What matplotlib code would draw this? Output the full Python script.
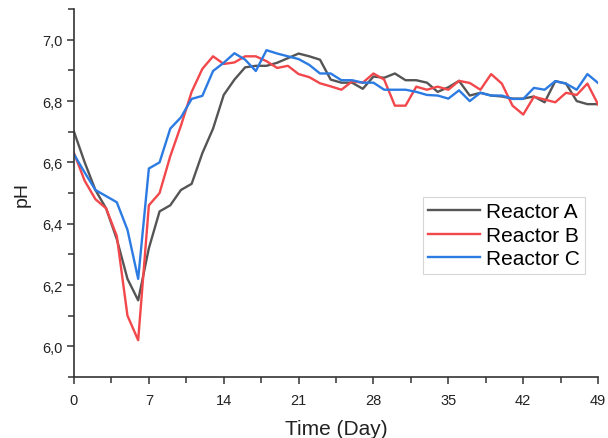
import numpy as np
import matplotlib
matplotlib.use("Agg")
import matplotlib.pyplot as plt
from matplotlib.ticker import MultipleLocator, FuncFormatter

plt.rcParams["font.family"] = ["Liberation Sans", "DejaVu Sans"]

days = np.arange(0, 50)
reactor_a = [6.70, 6.60, 6.51, 6.45, 6.35, 6.22, 6.15, 6.32, 6.44, 6.46,
             6.51, 6.53, 6.63, 6.71, 6.82, 6.87, 6.91, 6.915, 6.915, 6.925,
             6.94, 6.955, 6.946, 6.935, 6.87, 6.86, 6.86, 6.84, 6.88, 6.876,
             6.89, 6.868, 6.868, 6.86, 6.83, 6.845, 6.866, 6.818, 6.827, 6.818,
             6.815, 6.808, 6.808, 6.815, 6.796, 6.865, 6.857, 6.80, 6.79, 6.79]
reactor_b = [6.63, 6.54, 6.48, 6.45, 6.36, 6.10, 6.02, 6.46, 6.50, 6.62,
             6.72, 6.83, 6.905, 6.946, 6.921, 6.926, 6.946, 6.946, 6.93, 6.908,
             6.915, 6.888, 6.878, 6.858, 6.848, 6.837, 6.864, 6.86, 6.89, 6.87,
             6.785, 6.785, 6.847, 6.837, 6.847, 6.837, 6.866, 6.859, 6.837, 6.888,
             6.857, 6.785, 6.756, 6.814, 6.805, 6.796, 6.827, 6.82, 6.857, 6.789]
reactor_c = [6.626, 6.567, 6.51, 6.49, 6.47, 6.38, 6.22, 6.58, 6.60, 6.71,
             6.747, 6.807, 6.817, 6.898, 6.925, 6.956, 6.935, 6.898, 6.966, 6.955,
             6.946, 6.937, 6.918, 6.89, 6.89, 6.868, 6.868, 6.86, 6.86, 6.837,
             6.837, 6.837, 6.83, 6.82, 6.818, 6.808, 6.835, 6.80, 6.827, 6.818,
             6.818, 6.807, 6.807, 6.843, 6.837, 6.865, 6.857, 6.837, 6.888, 6.859]

fig = plt.figure(figsize=(6.08, 4.39), dpi=100)
ax = fig.add_axes([0.1217, 0.139, 0.862, 0.838])

ax.plot(days, reactor_a, c="#555555", lw=1.7, label="Reactor A")
ax.plot(days, reactor_b, c="#f2474b", lw=1.7, label="Reactor B")
ax.plot(days, reactor_c, c="#2b7be3", lw=1.7, label="Reactor C")

ax.set_xlim(0, 49); ax.set_ylim(5.9, 7.1)
ax.xaxis.set_major_locator(MultipleLocator(7)); ax.xaxis.set_minor_locator(MultipleLocator(3.5))
ax.yaxis.set_major_locator(MultipleLocator(0.2)); ax.yaxis.set_minor_locator(MultipleLocator(0.1))
ax.yaxis.set_major_formatter(FuncFormatter(lambda v, p: f"{v:.1f}".replace(".", ",")))
for s in ["top", "right"]:
    ax.spines[s].set_visible(False)
for s in ["left", "bottom"]:
    ax.spines[s].set_color("#333333"); ax.spines[s].set_linewidth(1.2)
ax.tick_params(which="both", direction="out", color="#333333", width=1.1, labelsize=10.5,
               labelcolor="#222222")
ax.tick_params(which="major", length=5); ax.tick_params(which="minor", length=4)
ax.tick_params(axis="x", which="major", pad=6.5)
ax.set_xlabel("Time (Day)", fontsize=15, color="#222222", labelpad=9)
ax.set_ylabel("pH", fontsize=14, color="#222222", labelpad=8)

leg = ax.legend(loc="upper left", bbox_to_anchor=(0.666, 0.489), fontsize=15, frameon=True,
                fancybox=False, edgecolor="#cccccc", handlelength=2.5, handletextpad=0.25,
                borderpad=0.25, labelspacing=0.22, borderaxespad=0)
leg.get_frame().set_linewidth(0.8)

fig.savefig("out.png", dpi=100)
